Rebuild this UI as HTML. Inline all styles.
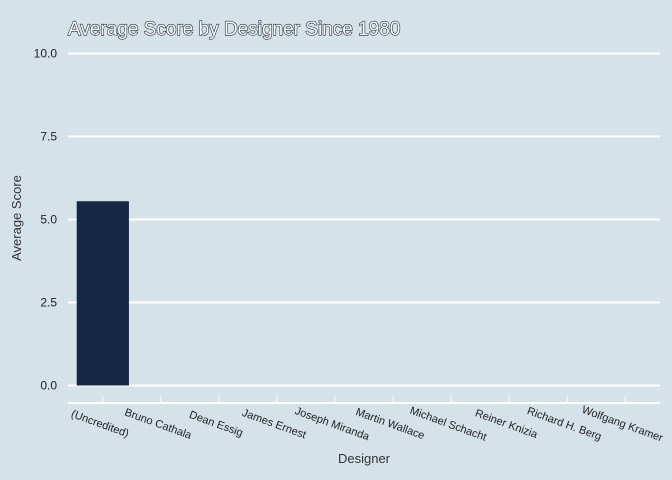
<!DOCTYPE html>
<html><head><meta charset="utf-8"><style>
body{margin:0;background:#d5e2ea;}
svg{display:block;font-family:"Liberation Sans",sans-serif;}
</style></head><body>
<svg id="chart" width="672" height="480">
<rect width="672" height="480" fill="#d5e2ea"/>
<text x="68" y="35" font-size="19" fill="#fff" stroke="#1a2a3a" stroke-width="1.2" paint-order="stroke">Average Score by Designer Since 1980</text>
<text transform="translate(21,218) rotate(-90)" text-anchor="middle" font-size="13" fill="#333">Average Score</text>
<text x="364" y="463" text-anchor="middle" font-size="13" fill="#333">Designer</text>
<g id="grid"></g><g id="bars"></g><g id="xaxis"></g>
</svg>
<script>
const categories=["(Uncredited)","Bruno Cathala","Dean Essig","James Ernest","Joseph Miranda","Martin Wallace","Michael Schacht","Reiner Knizia","Richard H. Berg","Wolfgang Kramer"];
const values=[5.55,0,0,0,0,0,0,0,0,0];
const yTicks=[0,2.5,5,7.5,10];
const yTickLabels=["0.0","2.5","5.0","7.5","10.0"];
const NS="http://www.w3.org/2000/svg";
const L=68,R=660,step=(R-L)/10.2;
const x=i=>L+step*(0.6+i);
const y=v=>385.5-v*33.2;
function mk(t,a,p){const e=document.createElementNS(NS,t);for(const k in a)e.setAttribute(k,a[k]);p.appendChild(e);return e;}
const g=document.getElementById('grid');
yTicks.forEach((v,i)=>{
 const ln=mk('line',{x1:L,x2:R,y1:y(v),y2:y(v),stroke:'#fff','stroke-width':2},g);
 
 
 const t=mk('text',{x:57,y:y(v)+4,'text-anchor':'end','font-size':12,fill:'#222'},g);
 t.textContent=yTickLabels[i];
 
 
});
const b=document.getElementById('bars');
values.forEach((v,i)=>{
 const r=mk('rect',{x:x(i)-step*0.45,width:step*0.9,y:y(v),height:Math.max(0,y(0)-y(v)),fill:'#152a42'},b);
 
 
});
const xa=document.getElementById('xaxis');
const al=mk('line',{x1:L,x2:R,y1:403,y2:403,stroke:'#fff','stroke-width':2},xa);


categories.forEach((c,i)=>{
 const tk=mk('line',{x1:x(i),x2:x(i),y1:396,y2:403,stroke:'#fff','stroke-width':1},xa);
 
 
 const t=mk('text',{transform:`translate(${x(i)-4},427) rotate(20)`,'text-anchor':'middle','font-size':11,fill:'#222'},xa);
 t.textContent=c;
 
 
});
</script>
</body></html>
